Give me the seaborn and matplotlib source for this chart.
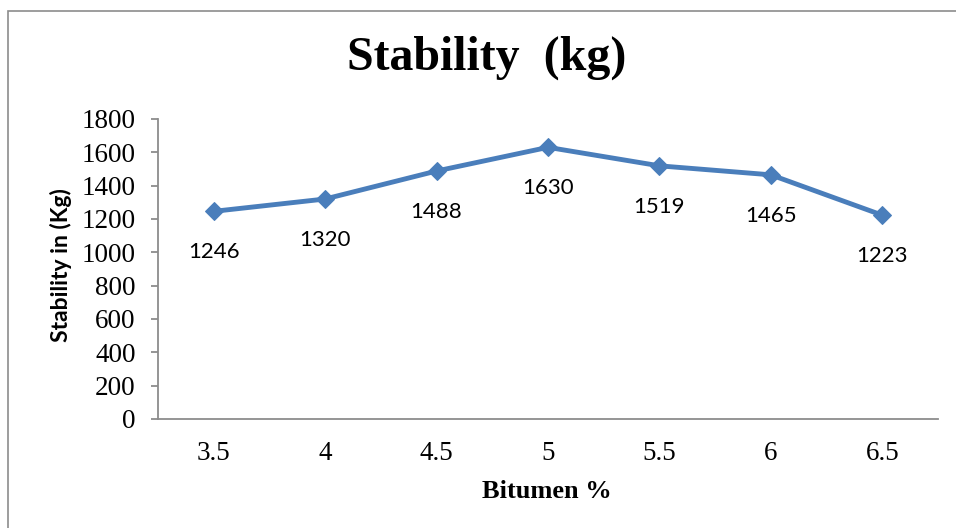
import matplotlib
matplotlib.use("Agg")
import matplotlib.pyplot as plt
from matplotlib.patches import Rectangle
import seaborn as sns
import pandas as pd

# Marshall stability versus bitumen content
bitumen_pct = ["3.5", "4", "4.5", "5", "5.5", "6", "6.5"]
stability_kg = [1246, 1320, 1488, 1630, 1519, 1465, 1223]
y_ticks = [0, 200, 400, 600, 800, 1000, 1200, 1400, 1600, 1800]

sns.set_theme(style="white")
plt.rcParams["font.family"] = ["Liberation Serif", "DejaVu Serif"]
plt.rcParams["text.color"] = "black"

W, H = 956, 528
fig = plt.figure(figsize=(W / 100, H / 100), dpi=100)
fig.patch.set_facecolor("white")

# chart-area frame (extends past right and bottom edges)
fig.add_artist(Rectangle((8 / W, -0.05), 1.2, 1 - 11 / H + 0.05,
                         transform=fig.transFigure, fill=False,
                         edgecolor="#8c8c8c", linewidth=1.2))

ax_l, ax_r, ax_t, ax_b = 158, 938, 119, 419
ax = fig.add_axes([ax_l / W, 1 - ax_b / H, (ax_r - ax_l) / W, (ax_b - ax_t) / H])

df = pd.DataFrame({"Bitumen %": bitumen_pct, "Stability": stability_kg})
line_color = "#4A7EBB"
sns.lineplot(data=df, x="Bitumen %", y="Stability", ax=ax, color=line_color,
             linewidth=3.5, marker="D", markersize=9,
             markeredgecolor=line_color, markerfacecolor=line_color, sort=False)

for i, v in enumerate(stability_kg):
    ax.annotate(str(v), (i, v), xytext=(0, -29.5), textcoords="offset points",
                ha="center", va="center", fontsize=16, family="Lato",
                color="black")

ax.set_xlim(-0.5, len(bitumen_pct) - 0.5)
ax.set_ylim(0, 1800)
ax.set_yticks(y_ticks)
ax.set_xticks(range(len(bitumen_pct)))
ax.set_xticklabels(bitumen_pct)

for side in ["top", "right"]:
    ax.spines[side].set_visible(False)
for side in ["left", "bottom"]:
    ax.spines[side].set_color("#8c8c8c")
    ax.spines[side].set_linewidth(1.3)

ax.tick_params(axis="y", which="major", left=True, length=5, width=1.3,
               color="#8c8c8c", pad=11, labelsize=19.5, labelcolor="black")
ax.tick_params(axis="x", which="major", bottom=False, length=0, pad=16,
               labelsize=19.5, labelcolor="black")
ax.set_xlabel("")
ax.set_ylabel("")
ax.grid(False)

fig.text(487 / W, 1 - 70 / H, "Stability  (kg)", ha="center", va="baseline",
         fontsize=34.5, fontweight="bold", family="Liberation Serif",
         color="black")
fig.text(547 / W, 1 - 498 / H, "Bitumen %", ha="center", va="baseline",
         fontsize=19, fontweight="bold", family="Liberation Serif",
         color="black")
fig.text(61 / W, 1 - 265 / H, "Stability in (Kg)", ha="center", va="center",
         rotation=90, fontsize=16.5, fontweight="bold", family="Lato",
         color="black")

fig.savefig("out.png", dpi=100, facecolor="white")
